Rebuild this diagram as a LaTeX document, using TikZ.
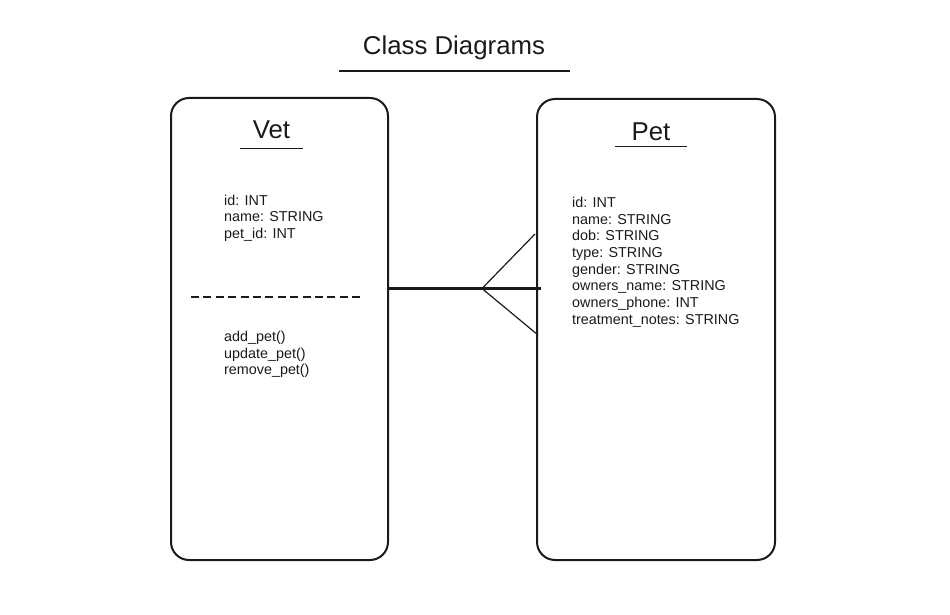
\documentclass[tikz,border=0pt]{standalone}
\usepackage{fontspec}
\setmainfont{Liberation Sans}
\definecolor{ink}{HTML}{1A1A1A}
\begin{document}
\begin{tikzpicture}[x=1pt,y=-1pt,
  classbox/.style={draw=ink, line width=2pt, rounded corners=18pt, inner sep=0pt},
  titletext/.style={text=ink, inner sep=0pt, font=\fontsize{25.8}{30}\selectfont},
  attrtext/.style={text=ink, inner sep=0pt, anchor=north west, align=left, font=\fontsize{14.35}{16.7}\selectfont},
  thinrule/.style={draw=ink, line width=0.9pt},
  link/.style={draw=ink, line width=2.3pt},
  crow/.style={draw=ink, line width=1.2pt}]
\useasboundingbox (0,0) rectangle (950,615);
% title
\node[titletext, anchor=base] (title) at (454,55) {Class Diagrams};
\draw[draw=ink, line width=2.5pt] (339,71) -- (570,71);
% boxes
\node[classbox, minimum width=217pt, minimum height=462pt] (vet) at (279.5,329) {};
\node[classbox, minimum width=238pt, minimum height=461pt] (pet) at (656,329.5) {};
% class names
\node[titletext, anchor=base] (vetname) at (271.5,138.5) {Vet};
\draw[thinrule] (240,148) -- (303,148);
\node[titletext, anchor=base] (petname) at (651,140) {Pet};
\draw[thinrule] (615,146.5) -- (687,146.5);
% Vet contents
\node[attrtext] (vetattr) at (224,194.7) {id: INT\\name: STRING\\pet\_id: INT};
\draw[draw=ink, line width=1.4pt, dash pattern=on 8pt off 4.4pt] (191,297) -- (364,297);
\node[attrtext] (vetops) at (224,330.7) {add\_pet()\\update\_pet()\\remove\_pet()};
% Pet contents
\node[attrtext] (petattr) at (572,196.7) {id: INT\\name: STRING\\dob: STRING\\type: STRING\\gender: STRING\\owners\_name: STRING\\owners\_phone: INT\\treatment\_notes: STRING};
% connector with crow's foot
\coordinate (apex) at (482,288.5);
\coordinate (cfa) at (535,234);
\coordinate (cfb) at (538,335);
\coordinate (lend) at (541,288.5);
\draw[link] (vet.east |- apex) -- (lend);
\draw[crow] (cfa) -- (apex) -- (cfb);
\end{tikzpicture}
\end{document}
